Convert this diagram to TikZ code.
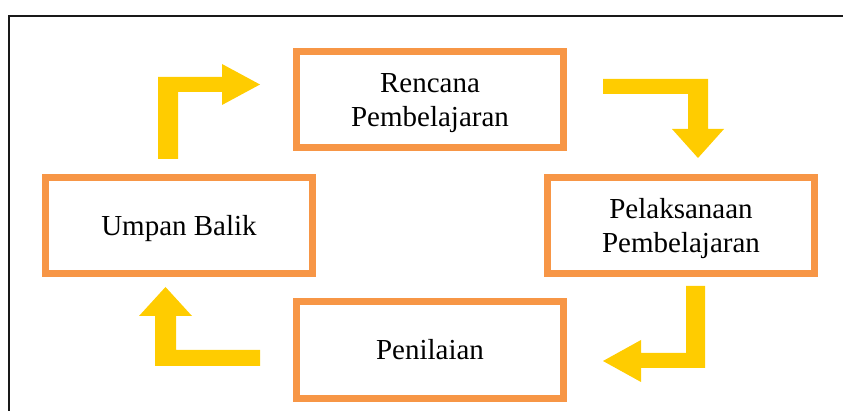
\documentclass[tikz,border=0pt]{standalone}
\usepackage{fontspec}
\setmainfont{Liberation Serif}
\definecolor{boxorange}{HTML}{F79646}
\definecolor{arrowyellow}{HTML}{FFCC00}
\newcommand{\tstrut}{\rule[-6.3pt]{0pt}{32.1pt}}
\tikzset{
  stagebox/.style={draw=boxorange, line width=7pt, minimum width=267pt, minimum height=96pt,
    inner sep=0pt, align=center, font=\fontsize{29pt}{34pt}\selectfont},
  blockarrow/.style={fill=arrowyellow, draw=none},
  frameline/.style={draw=black!90, line width=1.8pt}
}
\begin{document}
\begin{tikzpicture}[x=1pt, y=-1pt]
\useasboundingbox (0,0) rectangle (843,411);
\draw[frameline] (9,411) -- (9,15.8) -- (843,15.8);

\node[stagebox] (rencana) at (430,100) {\tstrut Rencana\\\tstrut Pembelajaran};
\node[stagebox] (pelaksanaan) at (681,225.5) {\tstrut Pelaksanaan\\\tstrut Pembelajaran};
\node[stagebox] (penilaian) at (430,350) {\tstrut Penilaian};
\node[stagebox] (umpan) at (179,225.5) {\tstrut Umpan Balik};

% block arrows
\fill[blockarrow] (158,159) -- (158,77) -- (222,77) -- (222,64) -- (260,84.5) -- (222,105) -- (222,92) -- (178,92) -- (178,159) -- cycle;
\fill[blockarrow] (603,79) -- (708,79) -- (708,129) -- (724,129) -- (698,158) -- (672,129) -- (688,129) -- (688,94) -- (603,94) -- cycle;
\fill[blockarrow] (686,286) -- (705,286) -- (705,368) -- (641,368) -- (641,382) -- (603,361) -- (641,340) -- (641,353) -- (686,353) -- cycle;
\fill[blockarrow] (260,350) -- (260,366) -- (155,366) -- (155,316) -- (139,316) -- (165.5,287) -- (192,316) -- (176,316) -- (176,350) -- cycle;
\end{tikzpicture}
\end{document}
